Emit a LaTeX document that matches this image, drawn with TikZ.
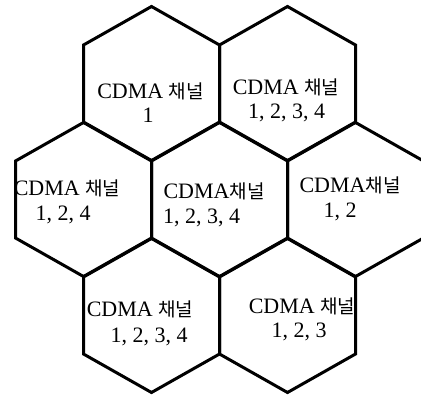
\documentclass[tikz,border=0pt]{standalone}
\usepackage{fontspec}
\setmainfont{Liberation Serif}
\newfontfamily\kr{Noto Sans CJK KR}
\newcommand\chan{{\kr\fontsize{19}{24}\selectfont 채널}}
\begin{document}
\begin{tikzpicture}[x=1pt,y=-1pt,
  cell/.style={draw=black,line width=3pt,line join=miter},
  lbl/.style={anchor=base,inner sep=0pt,font=\fontsize{22}{26}\selectfont}]
\useasboundingbox (0,0) rectangle (421,396);
\begin{scope}
\clip (0,0) rectangle (421,396);
\foreach \cx/\cy in {151.5/83.5,287.5/83.5,83.5/199.5,219.5/199.5,355.5/199.5,151.5/315.5,287.5/315.5}
  \draw[cell,shift={(\cx,\cy)}] (-68,-38.5) -- (0,-77) -- (68,-38.5) -- (68,38.5) -- (0,77) -- (-68,38.5) -- cycle;
\end{scope}
% row 1
\node[lbl] (h1a) at (150.5,99) {CDMA \chan};
\node[lbl] (h1b) at (148,123) {1};
\node[lbl] (h2a) at (286,95) {CDMA \chan};
\node[lbl] (h2b) at (286.5,118) {1, 2, 3, 4};
% row 2
\node[lbl] (h3a) at (67,196) {CDMA \chan};
\node[lbl] (h3b) at (63,220) {1, 2, 4};
\node[lbl] (h4a) at (214,198) {CDMA\chan};
\node[lbl] (h4b) at (201.5,223) {1, 2, 3, 4};
\node[lbl] (h5a) at (350,193) {CDMA\chan};
\node[lbl] (h5b) at (340,217) {1, 2};
% row 3
\node[lbl] (h6a) at (140,316) {CDMA \chan};
\node[lbl] (h6b) at (149,342) {1, 2, 3, 4};
\node[lbl] (h7a) at (302,313) {CDMA \chan};
\node[lbl] (h7b) at (299,337) {1, 2, 3};
\end{tikzpicture}
\end{document}
